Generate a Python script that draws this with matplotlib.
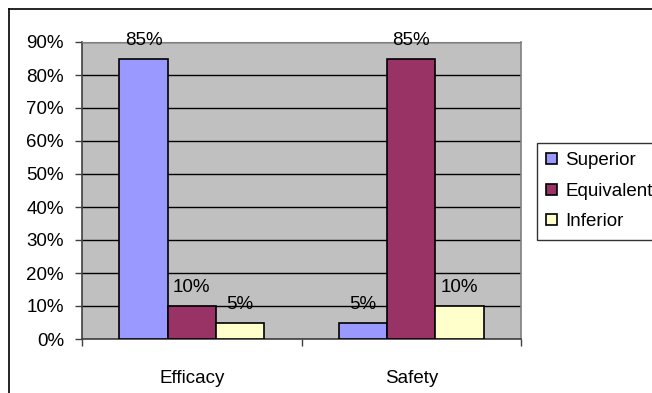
import matplotlib
matplotlib.use("Agg")
import matplotlib.pyplot as plt
from matplotlib.lines import Line2D
from matplotlib.ticker import FixedLocator, PercentFormatter
import numpy as np

plt.rcParams['font.family'] = ['Liberation Sans', 'DejaVu Sans']

categories = ["Efficacy", "Safety"]
series_names = ["Superior", "Equivalent", "Inferior"]
superior = [85, 5]
equivalent = [10, 85]
inferior = [5, 10]
series_values = [superior, equivalent, inferior]
colors = ["#9999FF", "#993366", "#FFFFCC"]
y_ticks = [0, 10, 20, 30, 40, 50, 60, 70, 80, 90]

W, H = 652, 393
fig = plt.figure(figsize=(W / 100, H / 100), dpi=100)
ax = fig.add_axes([82 / W, 1 - 339 / H, (521 - 82) / W, (339 - 42) / H])
ax.set_facecolor("#C0C0C0")

x = np.arange(len(categories))
bw = 0.22
offsets = [-bw, 0, bw]
for vals, name, col, off in zip(series_values, series_names, colors, offsets):
    bars = ax.bar(x + off, vals, width=bw, color=col, edgecolor="black",
                  linewidth=1.2, label=name, zorder=3)
    for b, v in zip(bars, vals):
        ax.annotate(f"{v}%", (b.get_x() + b.get_width() / 2, v),
                    xytext=(0, 7), textcoords="offset points",
                    ha="center", va="bottom", fontsize=13.5, zorder=4)

ax.set_xlim(-0.5, 1.5)
ax.set_ylim(0, 90)
ax.yaxis.set_major_locator(FixedLocator(y_ticks))
ax.yaxis.set_major_formatter(PercentFormatter(decimals=0))
ax.grid(axis="y", color="black", linewidth=1.0, zorder=1)
ax.set_axisbelow(True)

ax.xaxis.set_major_locator(FixedLocator([-0.5, 0.5, 1.5]))
ax.xaxis.set_major_formatter(plt.NullFormatter())
ax.xaxis.set_minor_locator(FixedLocator(x))
ax.set_xticklabels(categories, minor=True)
ax.tick_params(axis="x", which="minor", length=0, pad=22, labelsize=13.5)
ax.tick_params(axis="x", which="major", length=5, width=1, color="#404040", direction="out")
ax.tick_params(axis="y", length=5, width=1, color="#404040", direction="out",
               pad=8, labelsize=13.5)

ax.spines["left"].set_color("#404040")
ax.spines["bottom"].set_color("#404040")
ax.spines["left"].set_linewidth(1.2)
ax.spines["bottom"].set_linewidth(1.2)
ax.spines["top"].set_color("#808080")
ax.spines["right"].set_color("#808080")
ax.spines["right"].set_linewidth(1.2)

leg = fig.legend(loc="upper left", bbox_to_anchor=(537 / W, 1 - 143 / H),
                 bbox_transform=fig.transFigure, frameon=True, fancybox=False,
                 edgecolor="black", fontsize=13.5, handlelength=0.55,
                 handleheight=0.55, handletextpad=0.45, borderpad=0.5,
                 labelspacing=0.72, borderaxespad=0)
leg.get_frame().set_linewidth(1.0)

# outer chart border
fig.add_artist(Line2D([9 / W, 1.0], [1 - 9 / H, 1 - 9 / H], transform=fig.transFigure,
                      color="black", linewidth=1.2))
fig.add_artist(Line2D([9 / W, 9 / W], [0.0, 1 - 9 / H], transform=fig.transFigure,
                      color="black", linewidth=1.2))

fig.savefig("out.png", dpi=100)
